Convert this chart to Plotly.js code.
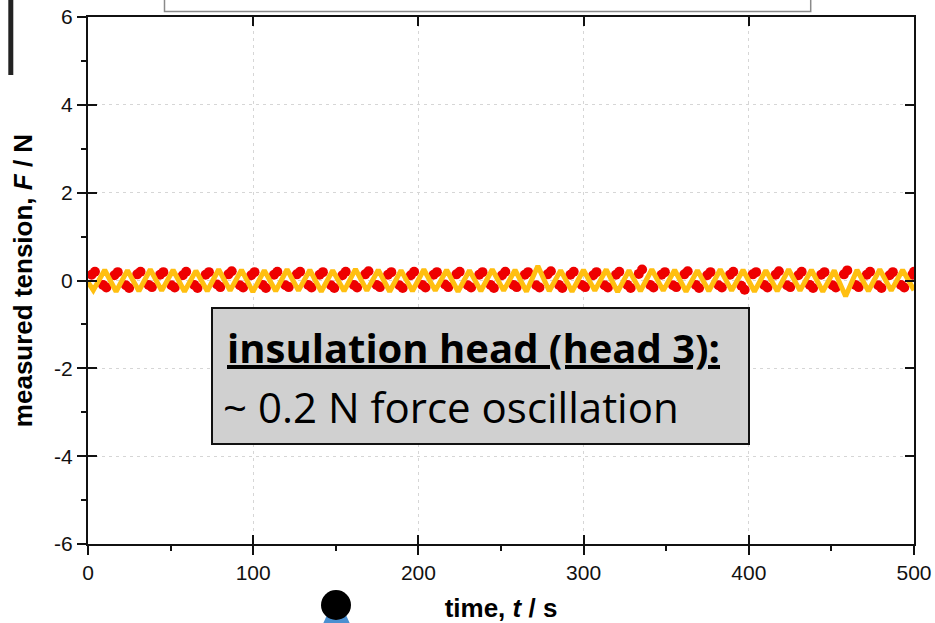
<!DOCTYPE html>
<html>
<head>
<meta charset="utf-8">
<script src="https://cdn.plot.ly/plotly-3.0.1.min.js"></script>
<style>html,body{margin:0;padding:0;background:#fff;}#chart{width:935px;height:623px;}</style>
</head>
<body>
<div id="chart"></div>
<script>
// ---- data ----
// red series: noisy blobs at the crests/troughs (two samples per blob)
var redTime = [
  2.2,4.2, 9.1,11.1, 16.0,18.0, 22.9,24.9, 29.8,31.8, 36.7,38.7, 43.6,45.6, 50.5,52.5,
  57.4,59.4, 64.3,66.3, 71.2,73.2, 78.1,80.1, 85.0,87.0, 91.9,93.9, 98.8,100.8, 105.7,107.7,
  112.6,114.6, 119.5,121.5, 126.4,128.4, 133.3,135.3, 140.2,142.2, 147.1,149.1, 154.0,156.0, 160.9,162.9,
  167.8,169.8, 174.7,176.7, 181.6,183.6, 188.5,190.5, 195.4,197.4, 202.3,204.3, 209.2,211.2, 216.1,218.1,
  223.0,225.0, 229.9,231.9, 236.8,238.8, 243.7,245.7, 250.6,252.6, 257.5,259.5, 264.4,266.4, 271.3,273.3,
  278.2,280.2, 285.1,287.1, 292.0,294.0, 298.9,300.9, 305.8,307.8, 312.7,314.7, 319.6,321.6, 326.5,328.5,
  333.4,335.4, 340.3,342.3, 347.2,349.2, 354.1,356.1, 361.0,363.0, 367.9,369.9, 374.8,376.8, 381.7,383.7,
  388.6,390.6, 395.5,397.5, 402.4,404.4, 409.3,411.3, 416.2,418.2, 423.1,425.1, 430.0,432.0, 436.9,438.9,
  443.8,445.8, 450.7,452.7, 457.6,459.6, 464.5,466.5, 471.4,473.4, 478.3,480.3, 485.2,487.2, 492.1,494.1,
  499.0,500.0
];
var redForce = [
  0.13,0.20, -0.10,-0.16, 0.12,0.19, -0.11,-0.17, 0.14,0.20, -0.10,-0.15, 0.13,0.19, -0.11,-0.16,
  0.12,0.20, -0.10,-0.17, 0.13,0.19, -0.09,-0.15, 0.14,0.21, -0.11,-0.16, 0.12,0.19, -0.10,-0.17,
  0.13,0.20, -0.11,-0.15, 0.14,0.20, -0.10,-0.16, 0.13,0.19, -0.11,-0.17, 0.12,0.20, -0.10,-0.16,
  0.14,0.21, -0.10,-0.15, 0.13,0.19, -0.11,-0.17, 0.12,0.20, -0.10,-0.16, 0.13,0.19, -0.09,-0.15,
  0.14,0.20, -0.11,-0.16, 0.13,0.19, -0.10,-0.17, 0.12,0.20, -0.10,-0.15, 0.13,0.19, -0.11,-0.16,
  0.14,0.21, -0.10,-0.17, 0.13,0.20, -0.10,-0.15, 0.12,0.19, -0.11,-0.16, 0.13,0.20, -0.10,-0.17,
  0.15,0.25, -0.10,-0.16, 0.13,0.19, -0.11,-0.15, 0.14,0.21, -0.10,-0.17, 0.12,0.19, -0.11,-0.16,
  0.13,0.20, -0.12,-0.21, 0.14,0.19, -0.10,-0.16, 0.13,0.21, -0.11,-0.15, 0.12,0.20, -0.10,-0.17,
  0.13,0.19, -0.11,-0.16, 0.14,0.23, -0.10,-0.15, 0.13,0.20, -0.11,-0.17, 0.12,0.19, -0.10,-0.16,
  0.13,0.20
];
// yellow series: zig-zag force trace (one vertex per crest/trough)
var yellowTime = [
  0, 3.2, 10.1, 17.0, 23.9, 30.8, 37.7, 44.6, 51.5, 58.4, 65.3, 72.2, 79.1, 86.0, 92.9, 99.8,
  106.7, 113.6, 120.5, 127.4, 134.3, 141.2, 148.1, 155.0, 161.9, 168.8, 175.7, 182.6, 189.5, 196.4,
  203.3, 210.2, 217.1, 224.0, 230.9, 237.8, 244.7, 251.6, 258.5, 265.4, 272.3, 279.2, 286.1, 293.0,
  299.9, 306.8, 313.7, 320.6, 327.5, 334.4, 341.3, 348.2, 355.1, 362.0, 368.9, 375.8, 382.7, 389.6,
  396.5, 403.4, 410.3, 417.2, 424.1, 431.0, 437.9, 444.8, 451.7, 458.6, 465.5, 472.4, 479.3, 486.2,
  493.1, 500.0
];
var yellowForce = [
  -0.04, -0.22, 0.24, -0.25, 0.23, -0.24, 0.25, -0.23, 0.24, -0.25, 0.22, -0.24, 0.25, -0.23, 0.24, -0.26,
  0.23, -0.24, 0.25, -0.23, 0.24, -0.25, 0.23, -0.24, 0.26, -0.23, 0.24, -0.25, 0.23, -0.24,
  0.25, -0.23, 0.24, -0.25, 0.23, -0.24, 0.25, -0.23, 0.24, -0.25, 0.33, -0.24, 0.23, -0.25,
  0.24, -0.23, 0.25, -0.26, 0.23, -0.24, 0.25, -0.23, 0.24, -0.25, 0.23, -0.24, 0.25, -0.23,
  0.24, -0.25, 0.23, -0.24, 0.25, -0.23, 0.24, -0.25, 0.23, -0.36, 0.24, -0.24, 0.25, -0.23,
  0.24, -0.22
];
// axis ticks
var xTickVals = [0, 100, 200, 300, 400, 500];
var xTickText = ["0", "100", "200", "300", "400", "500"];
var yTickVals = [-6, -4, -2, 0, 2, 4, 6];
var yTickText = ["-6", "-4", "-2", "0", "2", "4", "6"];
var xRange = [0, 500];
var yRange = [-6, 6];

var tickFont = {family: "Liberation Sans, Arial, sans-serif", size: 21, color: "#111"};
var titleFont = {family: "Liberation Sans, Arial, sans-serif", size: 26, color: "#000"};

var traces = [
  {x: redTime, y: redForce, type: "scatter", mode: "markers",
   marker: {color: "#ee0000", size: 10, line: {width: 0}}, xaxis: "x", yaxis: "y",
   hoverinfo: "skip", showlegend: false},
  {x: yellowTime, y: yellowForce, type: "scatter", mode: "lines",
   line: {color: "#ffbf10", width: 5}, xaxis: "x2", yaxis: "y2",
   hoverinfo: "skip", showlegend: false}
];

function px(v){ return (v - 88) / 826; }
function py(v){ return (544 - v) / 527; }

var gridDash = "3px,4px";

var layout = {
  width: 935, height: 623,
  margin: {l: 88, r: 21, t: 17, b: 79},
  paper_bgcolor: "#fff", plot_bgcolor: "rgba(0,0,0,0)",
  showlegend: false,
  xaxis: {
    range: xRange, tickmode: "array", tickvals: xTickVals, ticktext: xTickText,
    ticks: "outside", ticklen: 9, tickwidth: 2, tickcolor: "#111",
    showline: true, linewidth: 2, linecolor: "#111", mirror: true,
    showgrid: true, gridcolor: "#d6d6d6", griddash: gridDash, gridwidth: 1,
    zeroline: false, tickfont: tickFont,
    minor: {tickvals: [50, 150, 250, 350, 450], ticks: "outside", ticklen: 5, tickwidth: 2, tickcolor: "#111", showgrid: false},
    title: {text: "<b>time, <i>t</i> / s</b>", font: titleFont, standoff: 16}
  },
  yaxis: {
    range: yRange, tickmode: "array", tickvals: yTickVals, ticktext: yTickText,
    ticks: "outside", ticklen: 9, tickwidth: 2, tickcolor: "#111",
    showline: true, linewidth: 2, linecolor: "#111", mirror: true,
    showgrid: true, gridcolor: "#d6d6d6", griddash: gridDash, gridwidth: 1,
    zeroline: false, tickfont: tickFont,
    minor: {tickvals: [-5, -3, -1, 1, 3, 5], ticks: "outside", ticklen: 5, tickwidth: 2, tickcolor: "#111", showgrid: false},
    title: {text: "<b>measured tension, <i>F</i> / N</b>", font: titleFont, standoff: 14}
  },
  xaxis2: {
    range: xRange, overlaying: "x", anchor: "y2", side: "bottom",
    tickmode: "array", tickvals: xTickVals, showticklabels: false,
    ticks: "inside", ticklen: 9, tickwidth: 2, tickcolor: "#111",
    showline: false, mirror: "ticks", showgrid: false, zeroline: false
  },
  yaxis2: {
    range: yRange, overlaying: "y", anchor: "x2", side: "left",
    tickmode: "array", tickvals: yTickVals, showticklabels: false,
    ticks: "inside", ticklen: 9, tickwidth: 2, tickcolor: "#111",
    showline: false, mirror: "ticks", showgrid: false, zeroline: false
  },
  shapes: [
    {type: "rect", xref: "paper", yref: "paper", x0: px(164.5), x1: px(810.7), y0: py(11.5), y1: py(-10),
     line: {color: "#8a8a8a", width: 1.5}, fillcolor: "#fff", layer: "above"},
    {type: "line", xref: "paper", yref: "paper", x0: px(10.8), x1: px(10.8), y0: py(-2), y1: py(75),
     line: {color: "#222", width: 5}},
    {type: "rect", xref: "paper", yref: "paper", x0: px(212), x1: px(749), y0: py(444), y1: py(308),
     line: {color: "#111", width: 2}, fillcolor: "#d0d0d0", layer: "above"},
    {type: "path", xref: "paper", yref: "paper",
     path: "M " + px(327) + "," + py(615) + " L " + px(346) + "," + py(615) + " L " + px(351) + "," + py(626) + " L " + px(322) + "," + py(626) + " Z",
     line: {width: 0}, fillcolor: "#4a8fd0", layer: "above"},
    {type: "circle", xref: "paper", yref: "paper", x0: px(321), x1: px(351), y0: py(620), y1: py(590),
     line: {width: 0}, fillcolor: "#000", layer: "above"}
  ],
  annotations: [
    {xref: "paper", yref: "paper", x: px(225), y: py(347), xanchor: "left", yanchor: "middle",
     text: "<b><u>insulation head (head 3):</u></b>", showarrow: false,
     font: {family: "Open Sans, sans-serif", size: 40, color: "#000"}},
    {xref: "paper", yref: "paper", x: px(221), y: py(406), xanchor: "left", yanchor: "middle",
     text: "~ 0.2 N force oscillation", showarrow: false,
     font: {family: "Open Sans, sans-serif", size: 42, color: "#000"}}
  ]
};

Plotly.newPlot("chart", traces, layout, {displayModeBar: false, staticPlot: true});
</script>
</body>
</html>
